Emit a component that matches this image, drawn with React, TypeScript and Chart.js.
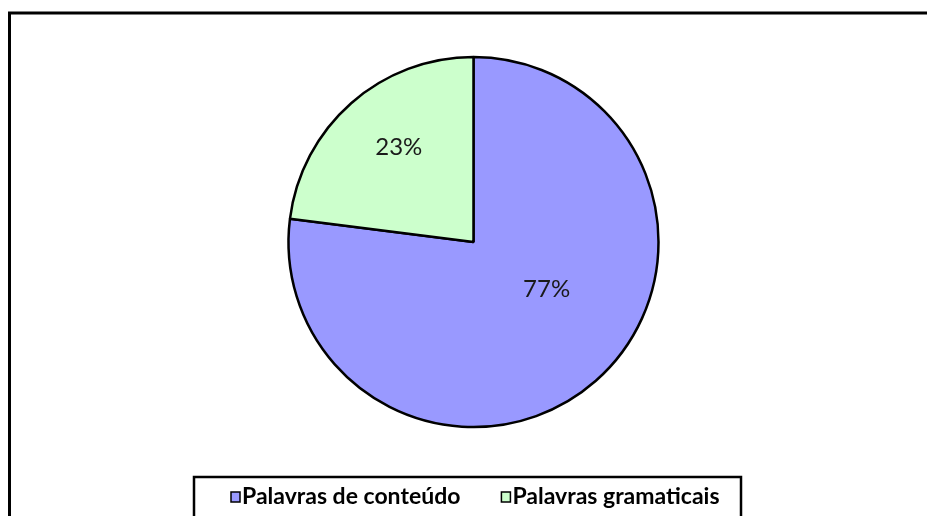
import React, { useEffect, useRef } from "react";
import { Chart, registerables } from "chart.js";

Chart.register(...registerables);

const categories: string[] = ["Palavras de conteúdo", "Palavras gramaticais"];
const values: number[] = [77, 23];
const sliceColors: string[] = ["#9999FF", "#CCFFCC"];
const valueLabels: string[] = ["77%", "23%"];

// label placement tweaks (degrees shift from mid-angle, radius fraction)
const LABEL_SHIFT_DEG = [-15.8, 3.0];
const LABEL_RADIUS = [0.47, 0.65];

const decorPlugin = {
  id: "decor",
  afterDraw(chart: any) {
    const ctx: CanvasRenderingContext2D = chart.ctx;
    const meta = chart.getDatasetMeta(0);
    // value labels
    ctx.save();
    ctx.font = "24px Lato";
    ctx.fillStyle = "#1a1a1a";
    ctx.textAlign = "center";
    ctx.textBaseline = "middle";
    meta.data.forEach((arc: any, i: number) => {
      const p = arc.getProps(["x", "y", "startAngle", "endAngle", "outerRadius"], true);
      const mid = (p.startAngle + p.endAngle) / 2 + (LABEL_SHIFT_DEG[i] * Math.PI) / 180;
      const r = p.outerRadius * LABEL_RADIUS[i];
      ctx.fillText(valueLabels[i], p.x + Math.cos(mid) * r, p.y + Math.sin(mid) * r);
    });
    ctx.restore();

    // outer frame (top and left lines)
    ctx.save();
    ctx.strokeStyle = "#000";
    ctx.lineWidth = 3;
    ctx.beginPath();
    ctx.moveTo(9.5, 520);
    ctx.lineTo(9.5, 13);
    ctx.lineTo(930, 13);
    ctx.stroke();
    ctx.restore();

    // legend box
    ctx.save();
    ctx.strokeStyle = "#000";
    ctx.lineWidth = 2.5;
    ctx.strokeRect(194, 477, 547, 50);
    ctx.font = "bold 23px Lato";
    ctx.textBaseline = "middle";
    ctx.textAlign = "left";
    let x = 231;
    const cy = 497;
    const labels: string[] = chart.data.labels;
    const colors: string[] = chart.data.datasets[0].backgroundColor;
    labels.forEach((lab, i) => {
      ctx.fillStyle = colors[i];
      ctx.fillRect(x, cy - 5, 9, 10);
      ctx.strokeStyle = "#000";
      ctx.lineWidth = 1.5;
      ctx.strokeRect(x, cy - 5, 9, 10);
      ctx.fillStyle = "#000";
      ctx.fillText(lab, x + 11, cy);
      x += 11 + ctx.measureText(lab).width + 41;
    });
    ctx.restore();
  },
};

export default function App() {
  const ref = useRef<HTMLCanvasElement | null>(null);
  useEffect(() => {
    if (!ref.current) return;
    const chart = new Chart(ref.current, {
      type: "pie",
      data: {
        labels: categories,
        datasets: [
          {
            data: values,
            backgroundColor: sliceColors,
            borderColor: "#000",
            borderWidth: 2.5,
          },
        ],
      },
      options: {
        animation: false,
        responsive: false,
        radius: 185,
        layout: { padding: { top: 57, bottom: 89, left: 21, right: 1 } },
        plugins: {
          legend: { display: false },
          tooltip: { enabled: false },
        },
      } as any,
      plugins: [decorPlugin],
    });
    return () => chart.destroy();
  }, []);
  return (
    <div style={{ position: "fixed", left: 0, top: 0, width: 927, height: 516, background: "#fff" }}>
      <canvas ref={ref} width={927} height={516} style={{ width: 927, height: 516, display: "block" }} />
    </div>
  );
}
